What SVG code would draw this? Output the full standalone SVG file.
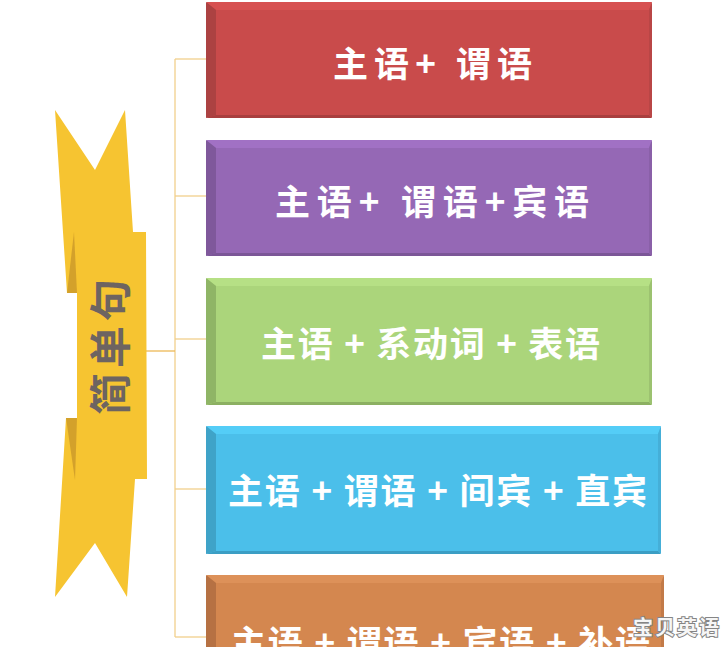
<svg xmlns="http://www.w3.org/2000/svg" width="722" height="647" viewBox="0 0 722 647">
<style>
.conn{stroke:#F2CF8C;stroke-width:1.3;fill:none}
.lbl{font-family:"Noto Sans CJK SC","Noto Sans",sans-serif;font-weight:bold;font-size:35px;fill:#FFFFFF}
.rib{font-family:"Noto Sans CJK SC","Noto Sans",sans-serif;font-weight:bold;font-size:42px;fill:#6D6461}
.wm{font-family:"Noto Sans CJK SC","Noto Sans",sans-serif;font-weight:bold;font-size:20px;fill:#F6F6F6;stroke:#858585;stroke-width:2;paint-order:stroke}
</style>
<rect width="722" height="647" fill="#FFFFFF"/>
<g id="connectors">
<line class="conn" x1="175" y1="59" x2="175" y2="637"/>
<line class="conn" x1="175" y1="59" x2="206" y2="59"/>
<line class="conn" x1="175" y1="196" x2="206" y2="196"/>
<line class="conn" x1="175" y1="339" x2="206" y2="339"/>
<line class="conn" x1="175" y1="489" x2="206" y2="489"/>
<line class="conn" x1="175" y1="637" x2="206" y2="637"/>
<line x1="144" y1="351" x2="175" y2="351" stroke="#EDB956" stroke-width="1.3"/>
</g>
<g id="ribbon">
<polygon points="55,110 95,170 125,110 133,232 146,232 147,479 135,479 127,597 95,543 55,597 66,418 77,418 77,293 67,293" fill="#F6C431"/>
<polygon points="74,232 67,293 77,293" fill="#D3A12B"/>
<polygon points="66,418 77,418 75,480" fill="#D3A12B"/>
<text class="rib" transform="translate(126,347) rotate(-90)" text-anchor="middle" x="0" y="0" textLength="136" lengthAdjust="spacing">简单句</text>
</g>
<g id="box1">
<rect x="206" y="2" width="446" height="116" rx="3" fill="#C94B4B"/>
<polygon points="206,2 652,2 649,10 216,10" fill="#D75151"/>
<polygon points="206,2 216,10 216,115 206,118" fill="#AC4242"/>
<polygon points="206,118 216,115 649,115 652,118" fill="#A93F3F"/>
<polygon points="652,2 652,118 649,115 649,10" fill="#B94646"/>
<text class="lbl" x="333" y="77" textLength="199" lengthAdjust="spacing">主语+ 谓语</text>
</g>
<g id="box2">
<rect x="206" y="140" width="446" height="116" rx="3" fill="#9568B5"/>
<polygon points="206,140 652,140 649,148 216,148" fill="#A171C4"/>
<polygon points="206,140 216,148 216,253 206,256" fill="#7F589B"/>
<polygon points="206,256 216,253 649,253 652,256" fill="#7B5697"/>
<polygon points="652,140 652,256 649,253 649,148" fill="#8A60A8"/>
<text class="lbl" x="275" y="215" textLength="314" lengthAdjust="spacing">主语+ 谓语+宾语</text>
</g>
<g id="box3">
<rect x="206" y="278" width="446" height="127" rx="3" fill="#ABD57B"/>
<polygon points="206,278 652,278 649,286 216,286" fill="#B6E085"/>
<polygon points="206,278 216,286 216,402 206,405" fill="#8FB566"/>
<polygon points="206,405 216,402 649,402 652,405" fill="#8CB062"/>
<polygon points="652,278 652,405 649,402 649,286" fill="#9CC270"/>
<text class="lbl" x="261" y="357" textLength="339" lengthAdjust="spacing">主语 + 系动词 + 表语</text>
</g>
<g id="box4">
<rect x="206" y="426" width="455" height="128" rx="3" fill="#4BBFEA"/>
<polygon points="206,426 661,426 658,434 216,434" fill="#54CDF7"/>
<polygon points="206,426 216,434 216,551 206,554" fill="#3FA3C8"/>
<polygon points="206,554 216,551 658,551 661,554" fill="#3B9EC4"/>
<polygon points="661,426 661,554 658,551 658,434" fill="#45AFD8"/>
<text class="lbl" x="228" y="504" textLength="419" lengthAdjust="spacing">主语 + 谓语 + 间宾 + 直宾</text>
</g>
<g id="box5">
<rect x="206" y="575" width="458" height="100" rx="3" fill="#D4874F"/>
<polygon points="206,575 664,575 661,583 216,583" fill="#DD9159"/>
<polygon points="206,575 216,583 216,675 206,675" fill="#B67143"/>
<polygon points="664,575 664,675 661,675 661,583" fill="#C27A48"/>
<text class="lbl" x="231" y="656" textLength="419" lengthAdjust="spacing">主语 + 谓语 + 宾语 + 补语</text>
</g>
<g id="watermark">
<text class="wm" x="633" y="635" textLength="86" lengthAdjust="spacing">宝贝英语</text>
</g>
</svg>
